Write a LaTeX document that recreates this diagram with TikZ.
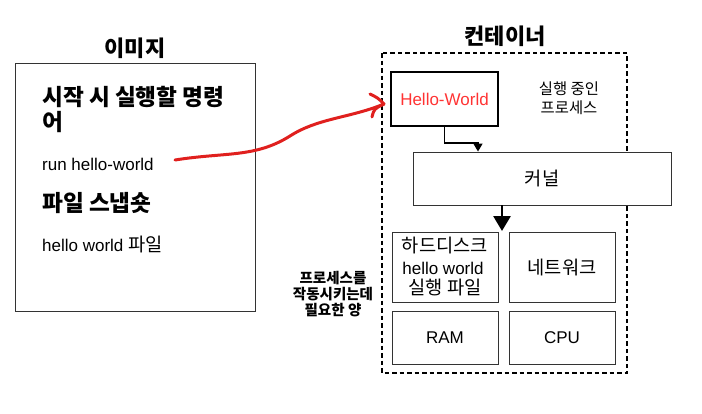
\documentclass[tikz,border=0pt]{standalone}
\usepackage{fontspec}
\setmainfont{Liberation Sans}
\newfontfamily\kr{Noto Sans CJK KR}[Scale=1.1]
\usetikzlibrary{arrows.meta}
\definecolor{boxgray}{HTML}{333333}
\definecolor{penred}{HTML}{E0201E}
\definecolor{hwred}{HTML}{FF3333}
\tikzset{
  title/.style={font=\fontsize{20}{24}\selectfont\bfseries\kr},
  head/.style={font=\fontsize{20.6}{24}\selectfont\bfseries\kr},
  body/.style={font=\fontsize{17}{21}\selectfont},
  small/.style={font=\fontsize{14}{19}\selectfont\kr, align=center},
  side/.style={font=\fontsize{13.2}{17}\selectfont\bfseries\kr},
  res/.style={draw=boxgray, line width=0.9pt, minimum width=106pt, inner sep=0pt},
}
\begin{document}
\begin{tikzpicture}[x=1pt,y=-1pt]
\useasboundingbox (0,0) rectangle (702,413);
% image box
\node[title, anchor=base] (imgt) at (135,56) {이미지};
\node[draw=boxgray, line width=0.9pt, minimum width=240pt, minimum height=248pt, inner sep=0pt] (img) at (135,187) {};
\node[anchor=base west, inner sep=0pt, head] (h1) at (42,105) {시작 시 실행할 명령};
\node[anchor=base west, inner sep=0pt, head] (h1b) at (42,130) {어};
\node[anchor=base west, inner sep=0pt, body] (run) at (42,170) {run hello-world};
\node[anchor=base west, inner sep=0pt, head] (h2) at (42,211) {파일 스냅숏};
\node[anchor=base west, inner sep=0pt, body] (hw) at (42,251) {hello world {\kr 파일}};
% container
\node[title, anchor=base] (cont) at (505,44) {컨테이너};
\draw[black, line width=1.4pt, dash pattern=on 4.5pt off 3pt] (382,53) rectangle (627,373);
\node[draw=black, line width=1.4pt, minimum width=107pt, minimum height=54pt, inner sep=0pt, text=hwred, body] (hello) at (444.5,99) {Hello-World};
\node[small, anchor=base] (proc1) at (569,94) {실행 중인};
\node[small, anchor=base] (proc2) at (569,113) {프로세스};
\node[draw=boxgray, line width=0.9pt, fill=white, minimum width=258pt, minimum height=53pt, inner sep=0pt, body] (kernel) at (542,178.5) {\kr 커널};
% resources
\node[res, minimum height=70pt] (disk) at (445,267) {};
\node[body, anchor=base, inner sep=0pt] (d1) at (445,252) {\kr 하드디스크};
\node[body, anchor=base, inner sep=0pt] (d2) at (443,274) {hello world};
\node[body, anchor=base, inner sep=0pt] (d3) at (445,294) {\kr 실행 파일};
\node[res, minimum height=70pt, body] (net) at (562,267) {\kr 네트워크};
\node[res, minimum height=53pt, body] (ram) at (445,337.5) {RAM};
\node[res, minimum height=53pt, body] (cpu) at (562,337.5) {CPU};
% side label
\node[anchor=base, inner sep=0pt, side] (l1) at (333,283) {프로세스를};
\node[anchor=base, inner sep=0pt, side] (l2) at (333,299) {작동시키는데};
\node[anchor=base, inner sep=0pt, side] (l3) at (333,315) {필요한 양};
% arrows
\draw[line width=1.4pt, -{Triangle[width=9pt,length=8pt]}] (hello.south) |- (478,143) -- (kernel.north -| 478,0);
\draw[line width=2.8pt, -{Triangle[width=17pt,length=15pt]}] (kernel.south -| 502,0) -- (502,231);
% red hand-drawn arrow
\coordinate (rs) at (175,160);
\coordinate (rt) at (384,104);
\draw[penred, line width=3pt, line cap=round, line join=round]
  (rs) .. controls (225,152) and (255,158) .. (290,136)
       .. controls (318,118) and (350,118) .. (rt);
\draw[penred, line width=3pt, line cap=round, line join=round]
  (370,94) .. controls (378,98) .. (rt)
  (372,117) .. controls (374,109) .. (rt);
\end{tikzpicture}
\end{document}
